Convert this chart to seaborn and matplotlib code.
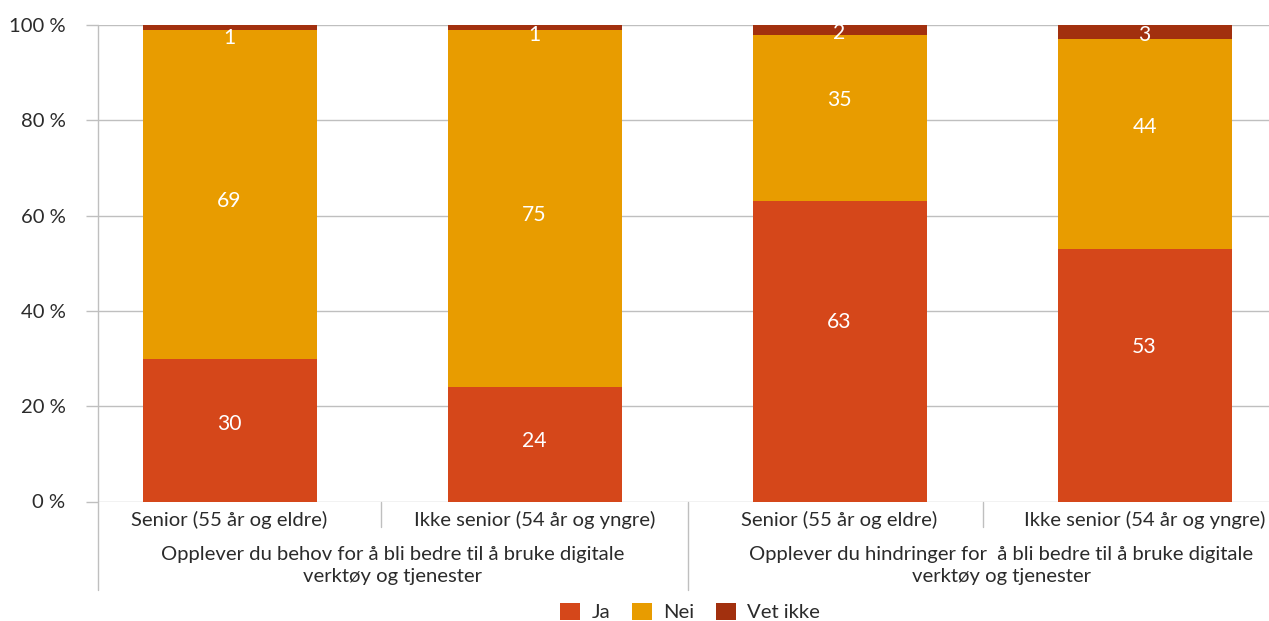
import matplotlib
matplotlib.use("Agg")
import matplotlib.pyplot as plt
import matplotlib.transforms as mtransforms
from matplotlib.patches import Patch
from matplotlib.lines import Line2D
import pandas as pd
import seaborn as sns

# ---- data -------------------------------------------------------------
groups = ["Senior (55 år og eldre)", "Ikke senior (54 år og yngre)",
          "Senior (55 år og eldre)", "Ikke senior (54 år og yngre)"]
questions = ["Opplever du behov for å bli bedre til å bruke digitale\nverktøy og tjenester",
             "Opplever du hindringer for  å bli bedre til å bruke digitale\nverktøy og tjenester"]
series = ["Ja", "Nei", "Vet ikke"]
ja = [30, 24, 63, 53]
nei = [69, 75, 35, 44]
vet_ikke = [1, 1, 2, 3]
y_ticks = [0, 20, 40, 60, 80, 100]

# ---- style ------------------------------------------------------------
colors = {"Ja": "#D5471A", "Nei": "#E89C00", "Vet ikke": "#A2300E"}
grid_col = "#BFBFBF"
text_col = "#2B2B2B"
FS = 14.6

sns.set_theme(style="white")
plt.rcParams["font.family"] = ["Lato", "DejaVu Sans"]

W, H = 1269, 621
fig = plt.figure(figsize=(W / 100, H / 100), dpi=100)
x0_px, x1_px, y0_px, y1_px = 97.5, 1269, 501.5, 25
ax = fig.add_axes([x0_px / W, (H - y0_px) / H, (x1_px - x0_px) / W, (y0_px - y1_px) / H])

def ay(py):
    """pixel row -> axes fraction"""
    return (y0_px - py) / (y0_px - y1_px)

# long-form frame with cumulative heights for layered (stacked) bars
pos = list(range(len(groups)))
df = pd.DataFrame({"pos": pos, "Ja": ja, "Nei": nei, "Vet ikke": vet_ikke})
df["top_ja"] = df["Ja"]
df["top_nei"] = df["Ja"] + df["Nei"]
df["top_vet"] = df["Ja"] + df["Nei"] + df["Vet ikke"]

bar_w = 0.5705
for col, name in [("top_vet", "Vet ikke"), ("top_nei", "Nei"), ("top_ja", "Ja")]:
    sns.barplot(data=df, x="pos", y=col, color=colors[name], width=bar_w,
                saturation=1, errorbar=None, ax=ax, linewidth=0, zorder=3)

ax.set_xlim(-0.4328, 3.408)
ax.set_ylim(0, 100)
ax.set_yticks(y_ticks)
ax.set_yticklabels([f"{t} %" for t in y_ticks], fontsize=FS, color=text_col)
ax.set_xticks([])
ax.set_xlabel("")
ax.set_ylabel("")
ax.yaxis.grid(True, color=grid_col, linewidth=1.0)
ax.set_axisbelow(True)
ax.tick_params(axis="y", length=8.6, width=1.0, color=grid_col, pad=14.4, left=True)
for s in ["top", "right", "bottom", "left"]:
    ax.spines[s].set_visible(False)

# left axis line, running down through the category rows
ax.add_line(Line2D([0, 0], [ay(590), 1], transform=ax.transAxes, color=grid_col,
                   linewidth=1.0, clip_on=False, zorder=1))

blend = mtransforms.blended_transform_factory(ax.transData, ax.transAxes)
# short separators between sub-categories, long one between questions
for xd in [0.497, 2.470]:
    ax.add_line(Line2D([xd, xd], [0, ay(527)], transform=blend, color=grid_col,
                       linewidth=1.0, clip_on=False))
ax.add_line(Line2D([1.503, 1.503], [0, ay(590)], transform=blend, color=grid_col,
                   linewidth=1.0, clip_on=False))

# category labels
for p, g in zip(pos, groups):
    ax.text(p, ay(520), g, transform=blend, ha="center", va="center",
            fontsize=FS, color=text_col)
for xc, q in zip([0.534, 2.53], questions):
    ax.text(xc, ay(565.5), q, transform=blend, ha="center", va="center",
            fontsize=FS, color=text_col, linespacing=1.42, multialignment="center")

# value labels (vertical nudges in pixels)
nudges = {"Ja": [6, 3, 29, 28], "Nei": [-6.5, -6.3, 18, 17.5], "Vet ikke": [-10.5, -8, -3.5, -2.5]}
for i in pos:
    bottom = 0
    for name, vals in [("Ja", ja), ("Nei", nei), ("Vet ikke", vet_ikke)]:
        v = vals[i]
        ax.annotate(f"{v}", (i, bottom + v / 2), xytext=(0, nudges[name][i] * 0.72),
                    textcoords="offset points", ha="center", va="center",
                    fontsize=FS + 0.6, color="white", zorder=5, annotation_clip=False)
        bottom += v

handles = [Patch(facecolor=colors[n], edgecolor="none", label=n) for n in series]
fig.legend(handles=handles, loc="center", bbox_to_anchor=(690 / W, (H - 612) / H),
           ncol=3, frameon=False, fontsize=FS, handlelength=1.0, handleheight=0.95,
           handletextpad=0.55, columnspacing=1.05, labelcolor=text_col,
           borderpad=0.0)

fig.savefig("out.png", dpi=100)
